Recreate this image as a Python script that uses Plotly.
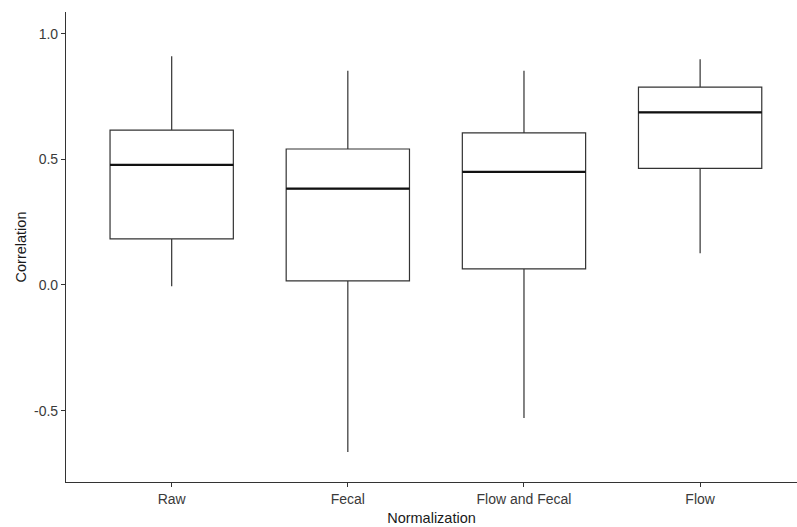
import plotly.graph_objects as go

categories = ["Raw", "Fecal", "Flow and Fecal", "Flow"]
lower_whisker = [-0.005, -0.665, -0.529, 0.126]
q1 = [0.183, 0.016, 0.064, 0.464]
median = [0.478, 0.383, 0.450, 0.687]
q3 = [0.616, 0.541, 0.605, 0.787]
upper_whisker = [0.910, 0.852, 0.852, 0.898]
y_ticks = [-0.5, 0.0, 0.5, 1.0]
y_tick_labels = ["-0.5", "0.0", "0.5", "1.0"]

box_width = 0.7
line_col = "#333333"
font_family = "Liberation Sans, Arial, sans-serif"

fig = go.Figure()
fig.add_trace(go.Box(
    x=categories,
    q1=q1, median=median, q3=q3,
    lowerfence=lower_whisker, upperfence=upper_whisker,
    width=box_width,
    whiskerwidth=0,
    fillcolor="white",
    line=dict(color=line_col, width=1.2),
    boxpoints=False,
    hoverinfo="skip",
    showlegend=False,
))

# thicker median lines like ggplot
for i, m in enumerate(median):
    fig.add_shape(type="line", xref="x", yref="y",
                  x0=i - box_width / 2, x1=i + box_width / 2, y0=m, y1=m,
                  line=dict(color="#111111", width=2.2))

fig.update_layout(
    width=797, height=527,
    margin=dict(l=66, r=0, t=12, b=45),
    paper_bgcolor="white", plot_bgcolor="white",
    font=dict(family=font_family, size=14, color="#4d4d4d"),
    xaxis=dict(
        type="category",
        range=[-0.6, 3.55],
        showline=True, linecolor=line_col, linewidth=1.2,
        ticks="outside", ticklen=4, tickcolor=line_col, tickwidth=1,
        showgrid=False, zeroline=False,
        tickfont=dict(size=14, color="#3a3a3a"),
        title=dict(text="Normalization", font=dict(size=14.5, color="#1a1a1a"), standoff=6),
    ),
    yaxis=dict(
        range=[-0.784, 1.086],
        tickvals=y_ticks, ticktext=y_tick_labels,
        showline=True, linecolor=line_col, linewidth=1.2,
        ticks="outside", ticklen=4, tickcolor=line_col, tickwidth=1,
        showgrid=False, zeroline=False,
        tickfont=dict(size=14, color="#3a3a3a"),
        title=dict(text="Correlation", font=dict(size=14.5, color="#1a1a1a"), standoff=3),
    ),
)

fig.write_html("out.html")
